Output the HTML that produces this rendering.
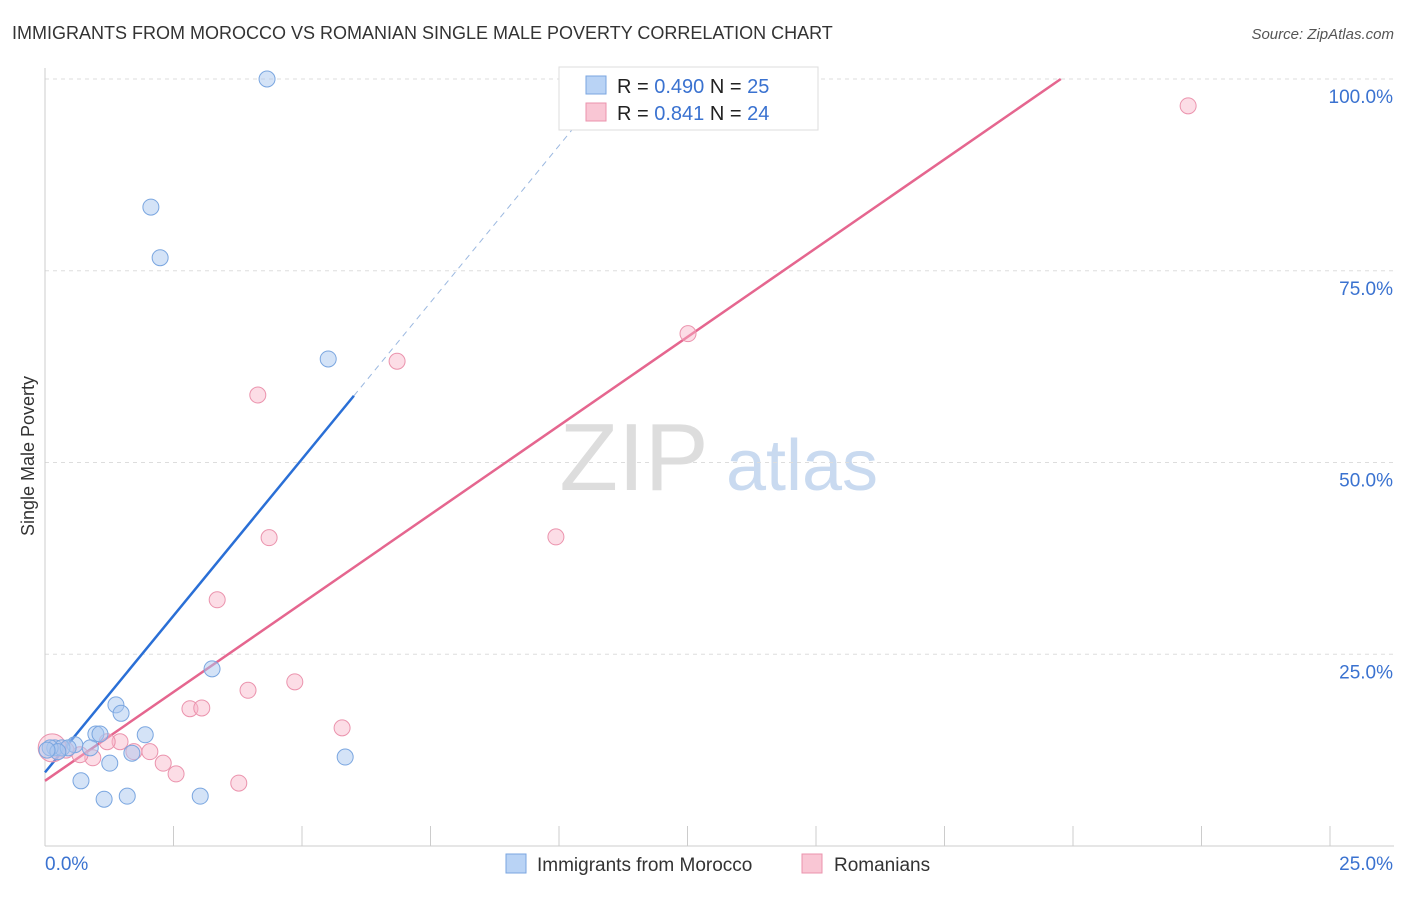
<!DOCTYPE html>
<html><head><meta charset="utf-8"><style>
body{margin:0;background:#fff;font-family:"Liberation Sans",sans-serif}
svg text{font-family:"Liberation Sans",sans-serif}
</style></head><body>
<svg width="1406" height="892" id="c">
<text x="12" y="39" font-size="18" fill="#333">IMMIGRANTS FROM MOROCCO VS ROMANIAN SINGLE MALE POVERTY CORRELATION CHART</text>
<text x="1394" y="39" font-size="15" fill="#555" text-anchor="end" font-style="italic">Source: ZipAtlas.com</text>
<text x="34" y="456" font-size="18" fill="#333" text-anchor="middle" transform="rotate(-90 34 456)">Single Male Poverty</text>
<g><text x="634" y="490" font-size="96" fill="#ddd" font-family="Liberation Serif" text-anchor="middle">ZIP</text><text x="802" y="490" font-size="72" fill="#c9daf0" text-anchor="middle">atlas</text></g>
<g id="grid"></g><g id="lines"></g><g id="pts"></g>
<g>
<rect x="559" y="67" width="259" height="63" fill="#fff" stroke="#ddd"/>
<rect x="586" y="76" width="20" height="18" fill="#b9d3f5" stroke="#7aa6e0"/>
<rect x="586" y="103" width="20" height="18" fill="#f9c6d4" stroke="#eb93ad"/>
<text x="617" y="93" font-size="20" fill="#222">R = <tspan fill="#3a72d0">0.490</tspan>   N = <tspan fill="#3a72d0">25</tspan></text>
<text x="617" y="120" font-size="20" fill="#222">R =  <tspan fill="#3a72d0">0.841</tspan>   N = <tspan fill="#3a72d0">24</tspan></text>
</g>
<g>
<rect x="506" y="854" width="20" height="19" fill="#b9d3f5" stroke="#7aa6e0"/>
<text x="537" y="871" font-size="19" fill="#333">Immigrants from Morocco</text>
<rect x="802" y="854" width="20" height="19" fill="#f9c6d4" stroke="#eb93ad"/>
<text x="834" y="871" font-size="19" fill="#333">Romanians</text>
</g>
</svg>
<script>
const xTicks=[0,2.5,5,7.5,10,12.5,15,17.5,20,22.5,25];
const yTicks=[25,50,75,100];
const yTickLabels=["25.0%","50.0%","75.0%","100.0%"];
const blueX=[4.32,2.06,2.24,5.51,3.25,1.38,1.48,0.99,1.07,1.95,0.58,0.19,0.33,0.45,0.88,1.26,1.69,0.70,1.15,1.60,3.02,5.84,0.10,0.25,0.04];
const blueY=[100,83.3,76.7,63.5,23.1,18.4,17.3,14.6,14.6,14.5,13.2,12.8,12.8,12.8,12.8,10.8,12.1,8.5,6.1,6.5,6.5,11.6,12.8,12.3,12.5];
const pinkX=[22.24,12.51,6.85,4.14,9.94,4.36,3.35,3.95,4.86,2.82,3.05,5.78,3.77,1.46,2.04,1.73,2.30,2.55,0.93,0.68,0.41,0.14,1.21,0.25];
const pinkY=[96.5,66.8,63.2,58.8,40.3,40.2,32.1,20.3,21.4,17.9,18.0,15.4,8.2,13.6,12.3,12.3,10.8,9.4,11.5,11.9,12.5,12.8,13.6,12.3];
const blueFit=[9.6,8.17], pinkFit=[8.5,4.63];
const NS="http://www.w3.org/2000/svg";
const X=v=>45+v/25*1285, Y=v=>846-v/100*767;
function mk(t,a,p){const e=document.createElementNS(NS,t);for(const k in a)e.setAttribute(k,a[k]);p.appendChild(e);return e;}
const g=document.getElementById('grid');
yTicks.forEach((t,i)=>{
 const l=mk('line',{x1:45,x2:1394,y1:Y(t),y2:Y(t),stroke:'#ddd','stroke-dasharray':'4 4'},g);
 
 
 const tx=mk('text',{x:1393,y:Y(t)+24,'font-size':19,fill:'#3a72d0','text-anchor':'end'},g);tx.textContent=yTickLabels[i];
 
 
});
mk('line',{x1:45,x2:45,y1:68,y2:846,stroke:'#ccc'},g);
mk('line',{x1:45,x2:1394,y1:846,y2:846,stroke:'#ccc'},g);
xTicks.forEach(t=>{const l=mk('line',{x1:X(t),x2:X(t),y1:826,y2:846,stroke:'#ccc'},g);
 
 });
let a=mk('text',{x:45,y:870,'font-size':19,fill:'#3a72d0'},g);a.textContent="0.0%";


a=mk('text',{x:1393,y:870,'font-size':19,fill:'#3a72d0','text-anchor':'end'},g);a.textContent="25.0%";


const L=document.getElementById('lines');
const bEnd=6.01, bMax=(100-blueFit[0])/blueFit[1];
let e=mk('line',{x1:X(0),y1:Y(blueFit[0]),x2:X(bEnd),y2:Y(blueFit[0]+blueFit[1]*bEnd),stroke:'#2a6fd6','stroke-width':2.5},L);


e=mk('line',{x1:X(bEnd),y1:Y(blueFit[0]+blueFit[1]*bEnd),x2:X(bMax),y2:Y(100),stroke:'#9bb8e0','stroke-width':1,'stroke-dasharray':'6 5'},L);


const pMax=(100-pinkFit[0])/pinkFit[1];
e=mk('line',{x1:X(0),y1:Y(pinkFit[0]),x2:X(pMax),y2:Y(100),stroke:'#e5668f','stroke-width':2.5},L);


const P=document.getElementById('pts');
pinkX.forEach((x,i)=>{const c=mk('circle',{cx:X(x),cy:Y(pinkY[i]),r:i==21?14:8,fill:'rgba(248,180,200,0.45)',stroke:'#eb93ad','stroke-width':1},P);
 
 });
blueX.forEach((x,i)=>{const c=mk('circle',{cx:X(x),cy:Y(blueY[i]),r:8,fill:'rgba(170,200,240,0.5)',stroke:'#7aa6e0','stroke-width':1},P);
 
 });
</script>
</body></html>
